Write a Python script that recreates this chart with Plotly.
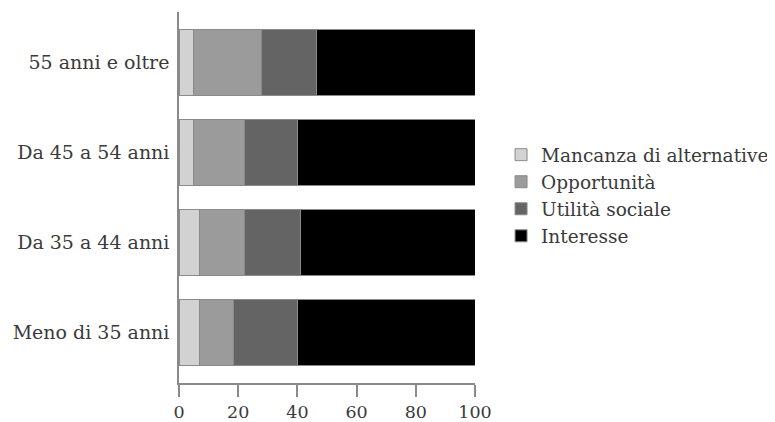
import plotly.graph_objects as go

categories = ["Meno di 35 anni", "Da 35 a 44 anni", "Da 45 a 54 anni", "55 anni e oltre"]
mancanza = [7, 7, 5, 5]
opportunita = [11.5, 15, 17, 23]
utilita = [21.5, 19, 18, 18.5]
interesse = [60, 59, 60, 53.5]
series_names = ["Mancanza di alternative", "Opportunità", "Utilità sociale", "Interesse"]
series_colors = ["#d2d2d2", "#9b9b9b", "#646464", "#000000"]
x_ticks = [0, 20, 40, 60, 80, 100]

font_family = "DejaVu Serif, Liberation Serif, serif"

fig = go.Figure()
for i, (name, vals, col) in enumerate(zip(series_names, [mancanza, opportunita, utilita, interesse], series_colors)):
    fig.add_trace(go.Bar(
        y=categories, x=vals, name=name, orientation="h",
        marker=dict(color=col, line=dict(color="#8a8a8a", width=1)),
        width=0.735, legendgroup=f"g{i}",
    ))

fig.update_layout(
    barmode="stack",
    width=775, height=422,
    margin=dict(l=171, r=308, t=4, b=47),
    plot_bgcolor="white", paper_bgcolor="white",
    font=dict(family=font_family, size=19, color="#3a3a3a"),
    showlegend=True,
    legend=dict(
        x=1.088, y=0.505, xanchor="left", yanchor="middle",
        traceorder="normal", font=dict(size=18.5, color="#3a3a3a"),
        itemwidth=30, tracegroupgap=4,
    ),
    xaxis=dict(
        range=[0, 100], tickvals=x_ticks, showgrid=False, zeroline=False,
        showline=True, linecolor="#8a8a8a", linewidth=1.5,
        ticks="outside", ticklen=12, tickcolor="#8a8a8a", tickwidth=1.5,
        tickfont=dict(size=17.5), fixedrange=True, automargin=False,
    ),
    yaxis=dict(
        type="category", categoryorder="array", categoryarray=categories,
        range=[-0.568, 3.564], showgrid=False, zeroline=False,
        showline=True, linecolor="#8a8a8a", linewidth=1.5,
        ticks="", ticklabelstandoff=4, tickfont=dict(size=19),
        automargin=False,
    ),
)

fig.write_html("out.html")
